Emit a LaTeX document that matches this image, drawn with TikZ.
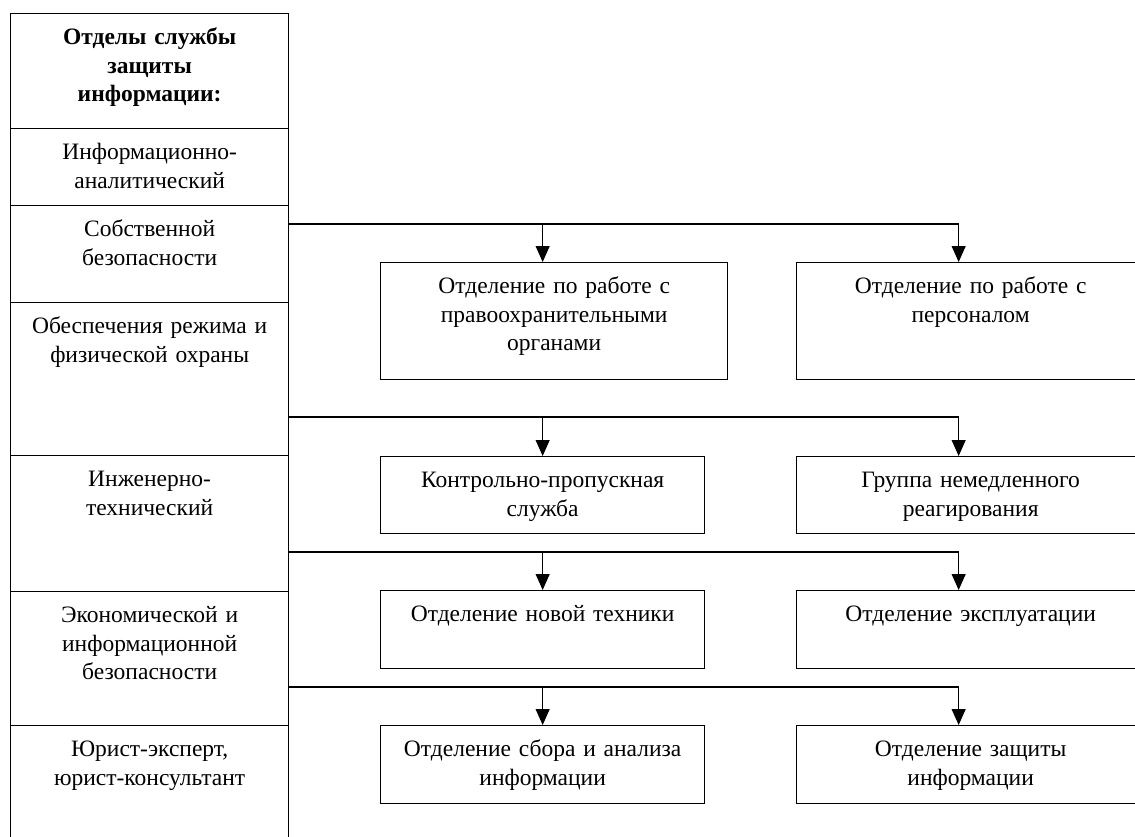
\documentclass[tikz,border=0pt]{standalone}
\usepackage{fontspec}
\setmainfont{Liberation Serif}
\usetikzlibrary{arrows.meta}

\begin{document}
\begin{tikzpicture}[x=1pt,y=-1pt,
    cell/.style={draw,line width=1.3pt,anchor=north west,inner xsep=4pt,inner ysep=0pt,
        text width=#1,align=center,text height=31pt,
        font=\fontsize{23.5}{28.5}\selectfont},
    link/.style={line width=1.1pt,-{Triangle[width=14pt,length=16pt]}}]
    \useasboundingbox (0,0) rectangle (1135,836);

    % Left column: departments
    \node[cell=270pt,text depth=84pt] (head) at (10,13) {\textbf{Отделы службы\\защиты\\информации:}};
    \node[cell=270pt,text depth=46pt] (info) at (10,128) {Информационно-\\аналитический};
    \node[cell=270pt,text depth=66pt] (sob) at (10,205) {Собственной\\безопасности};
    \node[cell=270pt,text depth=122pt] (obesp) at (10,302) {Обеспечения режима и\\физической охраны};
    \node[cell=270pt,text depth=105pt] (inzh) at (10,455) {Инженерно-\\технический};
    \node[cell=270pt,text depth=103pt] (ekon) at (10,591) {Экономической и\\информационной\\безопасности};
    \node[cell=270pt,text depth=109pt] (jur) at (10,725) {Юрист-эксперт,\\юрист-консультант};

    % Row 1
    \node[cell=339pt,text depth=86pt] (pravo) at (380,262) {Отделение по работе с\\правоохранительными\\органами};
    \node[cell=340pt,text depth=86pt] (pers) at (796,262) {Отделение по работе с\\персоналом};
    \coordinate (j1) at (288,224);
    \draw[link] (j1) -| ([xshift=-11.5pt]pravo.north);
    \draw[link] (j1) -| ([xshift=-12pt]pers.north);

    % Row 2
    \node[cell=316pt,text depth=46pt] (kpp) at (380,456) {Контрольно-пропускная\\служба};
    \node[cell=340pt,text depth=46pt] (grup) at (796,456) {Группа немедленного\\реагирования};
    \coordinate (j2) at (288,417);
    \draw[link] (j2) -| (kpp.north);
    \draw[link] (j2) -| ([xshift=-12pt]grup.north);

    % Row 3
    \node[cell=316pt,text depth=47pt] (novtech) at (380,590) {Отделение новой техники};
    \node[cell=340pt,text depth=47pt] (ekspl) at (796,590) {Отделение эксплуатации};
    \coordinate (j3) at (288,552);
    \draw[link] (j3) -| (novtech.north);
    \draw[link] (j3) -| ([xshift=-12pt]ekspl.north);

    % Row 4
    \node[cell=316pt,text depth=47pt] (sbor) at (380,725) {Отделение сбора и анализа\\информации};
    \node[cell=340pt,text depth=47pt] (zashch) at (796,725) {Отделение защиты\\информации};
    \coordinate (j4) at (288,687);
    \draw[link] (j4) -| (sbor.north);
    \draw[link] (j4) -| ([xshift=-12pt]zashch.north);
\end{tikzpicture}
\end{document}
